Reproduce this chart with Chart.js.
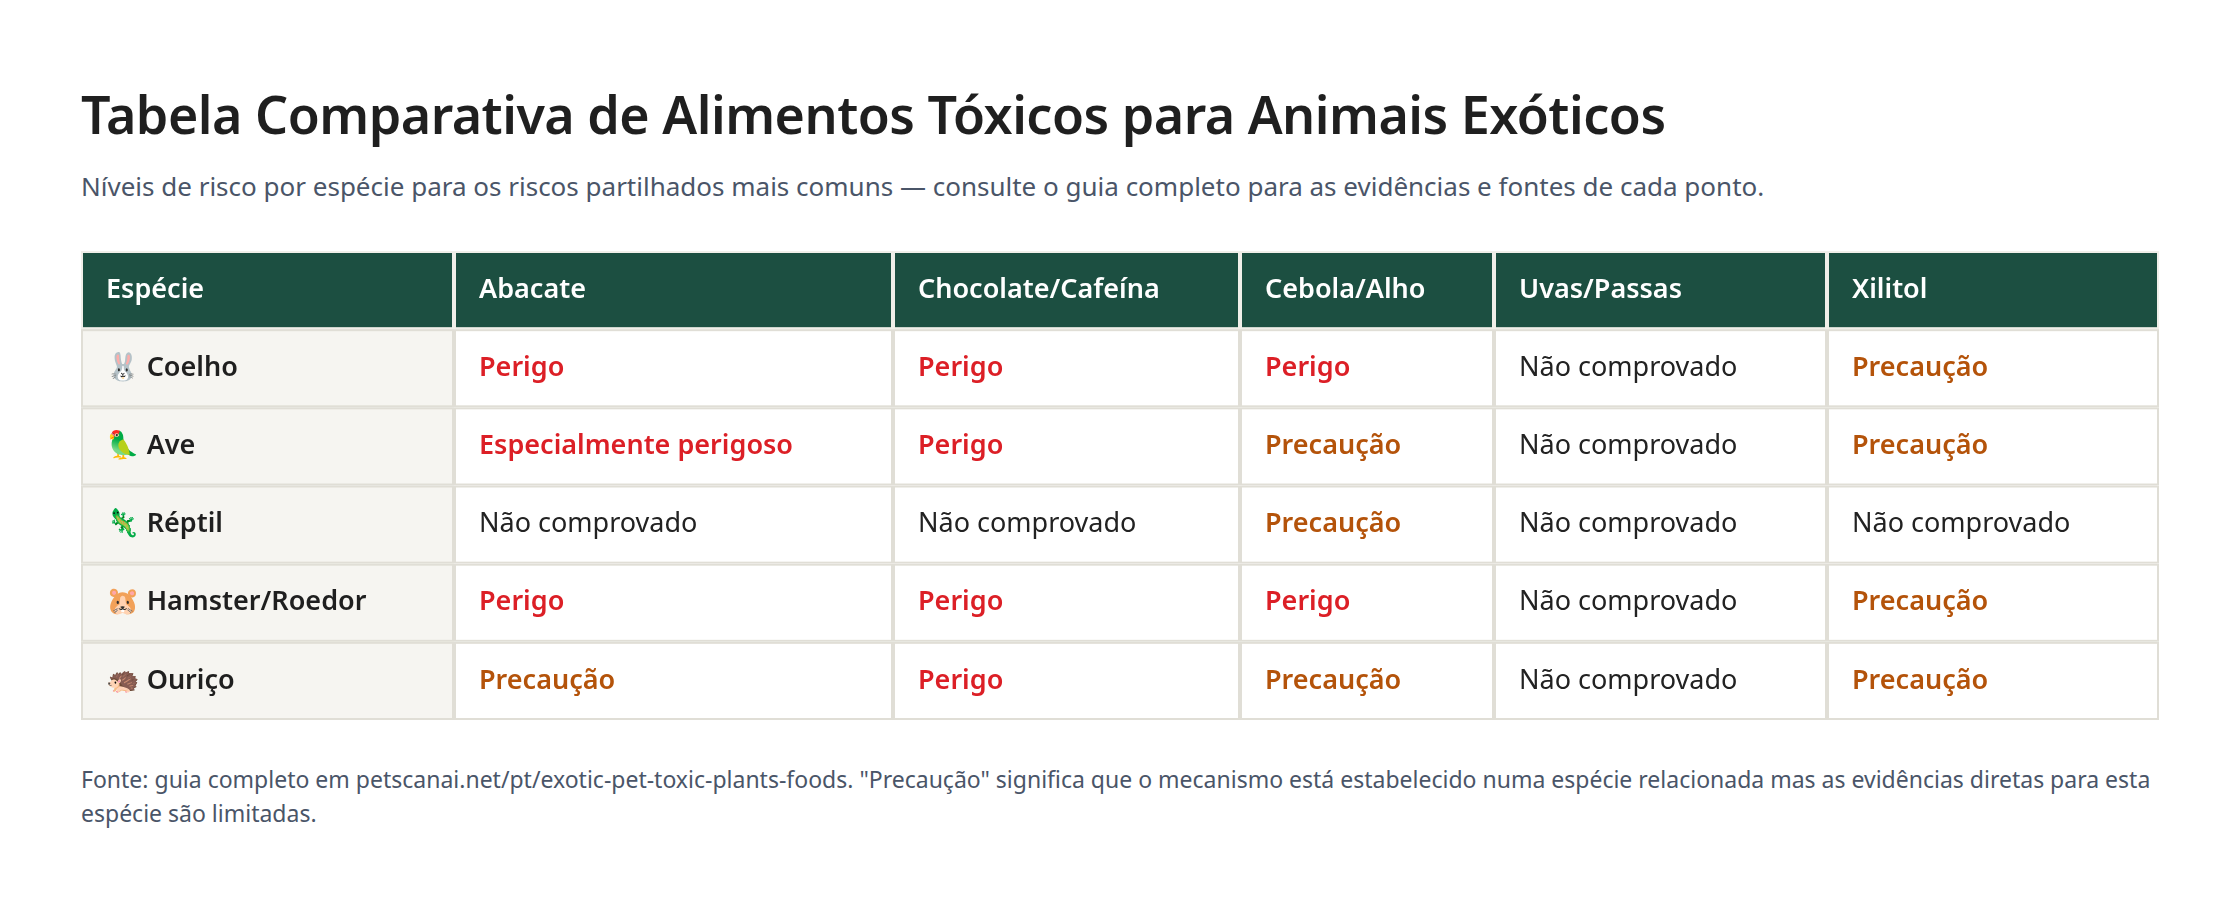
<!DOCTYPE html>
<html>
<head>
<meta charset="utf-8">
<script src="https://cdn.jsdelivr.net/npm/chart.js@4"></script>
<style>
  body { margin: 0; background: #fff; font-family: "Noto Sans", sans-serif; width: 2240px; height: 908px; overflow: hidden; position: relative; }
  h1 { position: absolute; left: 81px; top: 78px; margin: 0; font-size: 52px; font-weight: 600; color: #1f1f1f; letter-spacing: -0.5px; }
  .sub { position: absolute; left: 81px; top: 168px; font-size: 26px; color: #4a5568; }
  .wrap { position: absolute; left: 81px; top: 251px; width: 2078px; height: 469px; }
  .foot { position: absolute; left: 81px; top: 762px; width: 2080px; font-size: 23px; line-height: 34px; color: #4a5568; }
</style>
</head>
<body>
<h1>Tabela Comparativa de Alimentos Tóxicos para Animais Exóticos</h1>
<div class="sub">Níveis de risco por espécie para os riscos partilhados mais comuns — consulte o guia completo para as evidências e fontes de cada ponto.</div>
<div class="wrap"><canvas id="myChart"></canvas></div>
<div class="foot">Fonte: guia completo em petscanai.net/pt/exotic-pet-toxic-plants-foods. "Precaução" significa que o mecanismo está estabelecido numa espécie relacionada mas as evidências diretas para esta espécie são limitadas.</div>
<script>
const firstHeader = 'Espécie';
const foods = ['Abacate', 'Chocolate/Cafeína', 'Cebola/Alho', 'Uvas/Passas', 'Xilitol'];
const species = ['🐰 Coelho', '🦜 Ave', '🦎 Réptil', '🐹 Hamster/Roedor', '🦔 Ouriço'];
const risks = [
  ['Perigo', 'Perigo', 'Perigo', 'Não comprovado', 'Precaução'],
  ['Especialmente perigoso', 'Perigo', 'Precaução', 'Não comprovado', 'Precaução'],
  ['Não comprovado', 'Não comprovado', 'Precaução', 'Não comprovado', 'Não comprovado'],
  ['Perigo', 'Perigo', 'Perigo', 'Não comprovado', 'Precaução'],
  ['Precaução', 'Perigo', 'Precaução', 'Não comprovado', 'Precaução']
];

// layout / style
const colWidths = [373, 439, 347, 254, 333, 332];
const riskStyle = {
  'Perigo': { color: '#dc1f26', weight: '600' },
  'Especialmente perigoso': { color: '#dc1f26', weight: '600' },
  'Precaução': { color: '#b4530a', weight: '600' },
  'Não comprovado': { color: '#222222', weight: '400' }
};
const totalW = colWidths.reduce((a, b) => a + b, 0);
const edges = [0];
colWidths.forEach(w => edges.push(edges[edges.length - 1] + w));

const tablePlugin = {
  id: 'table',
  afterDraw(chart) {
    const ctx = chart.ctx;
    const xs = chart.scales.x, ys = chart.scales.y;
    const nRows = species.length + 1;
    ctx.save();
    for (let r = 0; r < nRows; r++) {
      const y0 = ys.getPixelForValue(r), y1 = ys.getPixelForValue(r + 1);
      for (let c = 0; c < colWidths.length; c++) {
        const x0 = xs.getPixelForValue(edges[c]), x1 = xs.getPixelForValue(edges[c + 1]);
        let bg = '#ffffff', text, color = '#222222', weight = '400';
        if (r === 0) {
          bg = '#1c4f41'; color = '#ffffff'; weight = '600';
          text = c === 0 ? firstHeader : foods[c - 1];
        } else if (c === 0) {
          bg = '#f6f5f1'; weight = '600'; color = '#1f1f1f';
          text = species[r - 1];
        } else {
          text = risks[r - 1][c - 1];
          color = riskStyle[text].color; weight = riskStyle[text].weight;
        }
        ctx.fillStyle = bg;
        ctx.fillRect(x0, y0, x1 - x0, y1 - y0);
        ctx.strokeStyle = r === 0 ? '#f0efe9' : '#e0ded6';
        ctx.lineWidth = 2;
        ctx.strokeRect(x0 + 1, y0 + 1, x1 - x0 - 2, y1 - y0 - 2);
        ctx.fillStyle = color;
        ctx.font = weight + ' 27px "Noto Sans", "Noto Color Emoji", sans-serif';
        ctx.textBaseline = 'middle';
        ctx.fillText(text, x0 + 25, (y0 + y1) / 2);
      }
    }
    ctx.restore();
  }
};

const ctx = document.getElementById('myChart').getContext('2d');
const myChart = new Chart(ctx, {
  type: 'scatter',
  data: { datasets: [{ data: [] }] },
  plugins: [tablePlugin],
  options: {
    responsive: true,
    maintainAspectRatio: false,
    animation: false,
    layout: { padding: 0 },
    plugins: { legend: { display: false }, tooltip: { enabled: false } },
    scales: {
      x: { type: 'linear', min: 0, max: totalW, display: false },
      y: { type: 'linear', min: 0, max: species.length + 1, reverse: true, display: false }
    }
  }
});
</script>
</body>
</html>
